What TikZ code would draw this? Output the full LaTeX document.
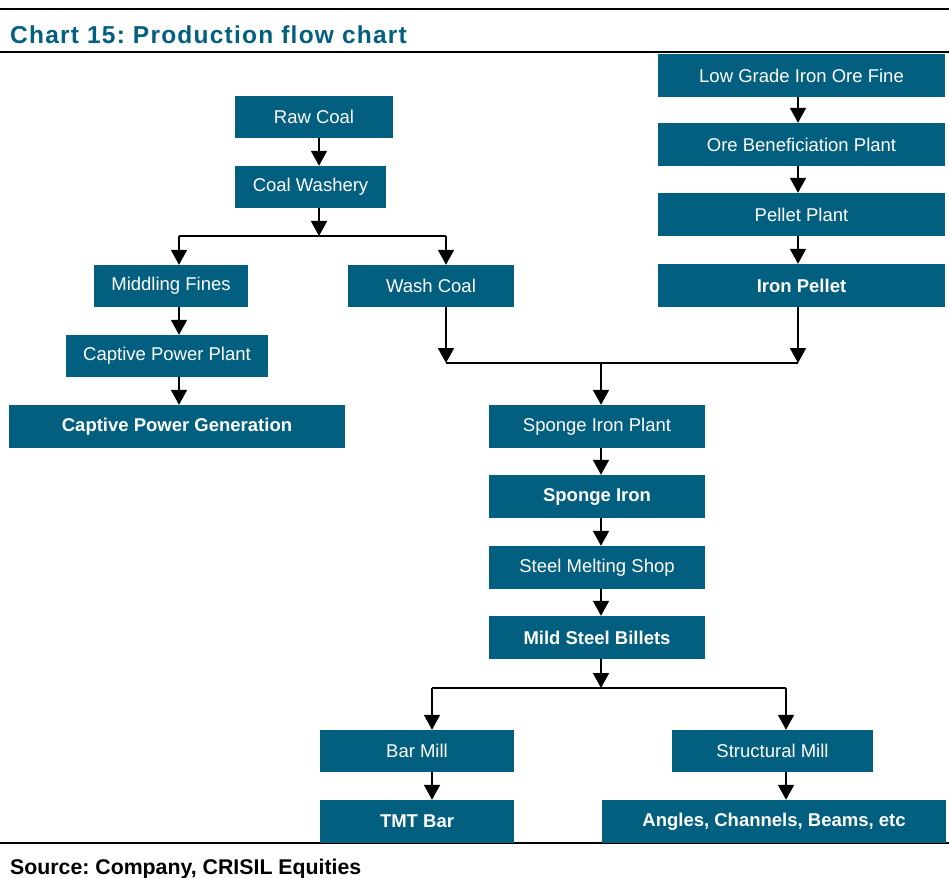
\documentclass[tikz,border=0pt]{standalone}
\usepackage{fontspec}
\setmainfont{Liberation Sans}
\newfontfamily\titlefont[LetterSpace=5]{Liberation Sans}
\usetikzlibrary{arrows.meta}
\definecolor{teal}{HTML}{035F80}
\begin{document}
\frenchspacing
\begin{tikzpicture}[x=1pt,y=-1pt,
  box/.style={fill=teal, text=white, inner sep=0pt, font=\fontsize{18.5}{20}\selectfont},
  bbox/.style={box, font=\fontsize{18.5}{20}\selectfont\bfseries},
  arr/.style={line width=1.8pt, -{Triangle[width=16pt,length=15pt]}},
  ln/.style={line width=1.8pt},
  rule/.style={line width=2.2pt}]
\useasboundingbox (0,0) rectangle (949,877);
% rules and texts
\coordinate (r1a) at (0,9); \coordinate (r1b) at (949,9);
\draw[rule] (r1a) -- (r1b);
\coordinate (r2a) at (0,52); \coordinate (r2b) at (949,52);
\draw[rule] (r2a) -- (r2b);
\coordinate (r3a) at (0,843); \coordinate (r3b) at (949,843);
\draw[rule] (r3a) -- (r3b);
\node[anchor=base west, text=teal, inner sep=0pt, font=\titlefont\fontsize{24.5}{27}\selectfont\bfseries] (title) at (10,44) {Chart 15: Production flow chart};
\node[anchor=base west, inner sep=0pt, font=\fontsize{21.3}{24}\selectfont\bfseries] (src) at (10,874) {Source: Company, CRISIL Equities};
% boxes (center x, center y; width, height)
\node[box, minimum width=158, minimum height=42] (raw) at (314,117) {Raw Coal};
\node[box, minimum width=151, minimum height=42] (cw) at (310.5,187) {Coal Washery};
\node[box, minimum width=154, minimum height=42] (mf) at (171,286) {Middling Fines};
\node[box, minimum width=166, minimum height=42] (wc) at (431,286) {Wash Coal};
\node[box, minimum width=202, minimum height=42] (cpp) at (167,356) {Captive Power Plant};
\node[bbox, minimum width=336, minimum height=43] (cpg) at (177,426.5) {Captive Power Generation};
\node[box, minimum width=287, minimum height=43] (lg) at (801.5,75.5) {Low Grade Iron Ore Fine};
\node[box, minimum width=287, minimum height=43] (ob) at (801.5,144.5) {Ore Beneficiation Plant};
\node[box, minimum width=287, minimum height=43] (pp) at (801.5,214.5) {Pellet Plant};
\node[bbox, minimum width=287, minimum height=43] (ip) at (801.5,285.5) {Iron Pellet};
\node[box, minimum width=216, minimum height=43] (sip) at (597,426.5) {Sponge Iron Plant};
\node[bbox, minimum width=216, minimum height=43] (si) at (597,496.5) {Sponge Iron};
\node[box, minimum width=216, minimum height=43] (sms) at (597,567.5) {Steel Melting Shop};
\node[bbox, minimum width=216, minimum height=43] (msb) at (597,637.5) {Mild Steel Billets};
\node[box, minimum width=194, minimum height=42] (bm) at (417,751) {Bar Mill};
\node[box, minimum width=201, minimum height=42] (sm) at (772.5,751) {Structural Mill};
\node[bbox, minimum width=194, minimum height=43] (tmt) at (417,821.5) {TMT Bar};
\node[bbox, minimum width=344, minimum height=43] (ang) at (774,821.5) {Angles, Channels, Beams, etc};
% junction coordinates
\coordinate (j1) at (319,236);
\coordinate (j1l) at (179,236);
\coordinate (j1r) at (446,236);
\coordinate (j2) at (601,363);
\coordinate (j2l) at (446,363);
\coordinate (j2r) at (798,363);
\coordinate (j3) at (601,688);
\coordinate (j3l) at (432,688);
\coordinate (j3r) at (786,688);
% coal branch
\draw[arr] (raw.south -| j1) -- (cw.north -| j1);
\draw[arr] (cw.south -| j1) -- (j1);
\draw[ln] (j1l) -- (j1r);
\draw[arr] (j1l) -- (mf.north -| j1l);
\draw[arr] (j1r) -- (wc.north -| j1r);
\draw[arr] (mf.south -| j1l) -- (cpp.north -| j1l);
\draw[arr] (cpp.south -| j1l) -- (cpg.north -| j1l);
% ore branch
\draw[arr] (lg.south -| j2r) -- (ob.north -| j2r);
\draw[arr] (ob.south -| j2r) -- (pp.north -| j2r);
\draw[arr] (pp.south -| j2r) -- (ip.north -| j2r);
% merge
\draw[arr] (wc.south -| j2l) -- (j2l);
\draw[arr] (ip.south -| j2r) -- (j2r);
\draw[ln] (j2l) -- (j2r);
\draw[arr] (j2) -- (sip.north -| j2);
\draw[arr] (sip.south -| j2) -- (si.north -| j2);
\draw[arr] (si.south -| j2) -- (sms.north -| j2);
\draw[arr] (sms.south -| j2) -- (msb.north -| j2);
\draw[arr] (msb.south -| j3) -- (j3);
\draw[ln] (j3l) -- (j3r);
\draw[arr] (j3l) -- (bm.north -| j3l);
\draw[arr] (j3r) -- (sm.north -| j3r);
\draw[arr] (bm.south -| j3l) -- (tmt.north -| j3l);
\draw[arr] (sm.south -| j3r) -- (ang.north -| j3r);
\end{tikzpicture}
\end{document}
